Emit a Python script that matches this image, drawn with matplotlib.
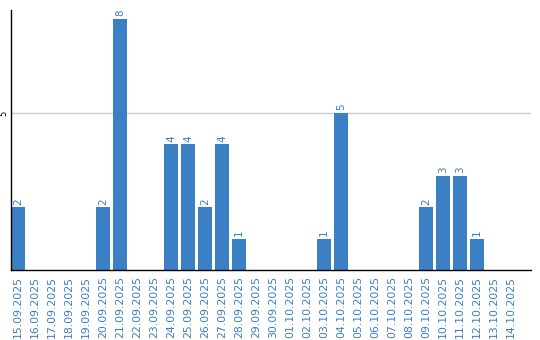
import matplotlib
matplotlib.use("Agg")
import matplotlib.pyplot as plt

dates = ["15.09.2025", "16.09.2025", "17.09.2025", "18.09.2025", "19.09.2025",
         "20.09.2025", "21.09.2025", "22.09.2025", "23.09.2025", "24.09.2025",
         "25.09.2025", "26.09.2025", "27.09.2025", "28.09.2025", "29.09.2025",
         "30.09.2025", "01.10.2025", "02.10.2025", "03.10.2025", "04.10.2025",
         "05.10.2025", "06.10.2025", "07.10.2025", "08.10.2025", "09.10.2025",
         "10.10.2025", "11.10.2025", "12.10.2025", "13.10.2025", "14.10.2025"]
values = [2, 0, 0, 0, 0, 2, 8, 0, 0, 4, 4, 2, 4, 1, 0, 0, 0, 0, 1, 5,
          0, 0, 0, 0, 2, 3, 3, 1, 0, 0]

bar_color = "#3b7fc4"
text_color = "#3b7fc4"

fig = plt.figure(figsize=(5.4, 3.4), dpi=100)
ax = fig.add_axes([11/540, 70/340, 520/540, 260/340])

x = list(range(len(dates)))
ax.bar(x, values, width=0.82, color=bar_color, zorder=2)
for xi, v in zip(x, values):
    if v > 0:
        ax.text(xi, v + 0.08, str(v), rotation=90, ha="center", va="bottom",
                fontsize=7.5, color=text_color)

ax.set_xlim(-0.41, 30.18)
ax.set_ylim(0, 8.28)
ax.set_yticks([5])
ax.set_yticklabels(["5"], rotation=90, va="center", fontsize=6)
ax.yaxis.grid(True, color="#cccccc", linewidth=1, zorder=0)
ax.set_xticks(x)
ax.set_xticklabels(dates, rotation=90, fontsize=7.8, color=text_color)
ax.tick_params(axis="both", length=0, pad=4)
ax.tick_params(axis="y", pad=2)
for s in ["top", "right"]:
    ax.spines[s].set_visible(False)
ax.spines["left"].set_color("black")
ax.spines["bottom"].set_color("black")
ax.spines["left"].set_linewidth(1.0)
ax.spines["bottom"].set_linewidth(1.0)

fig.savefig("out.png", dpi=100)
